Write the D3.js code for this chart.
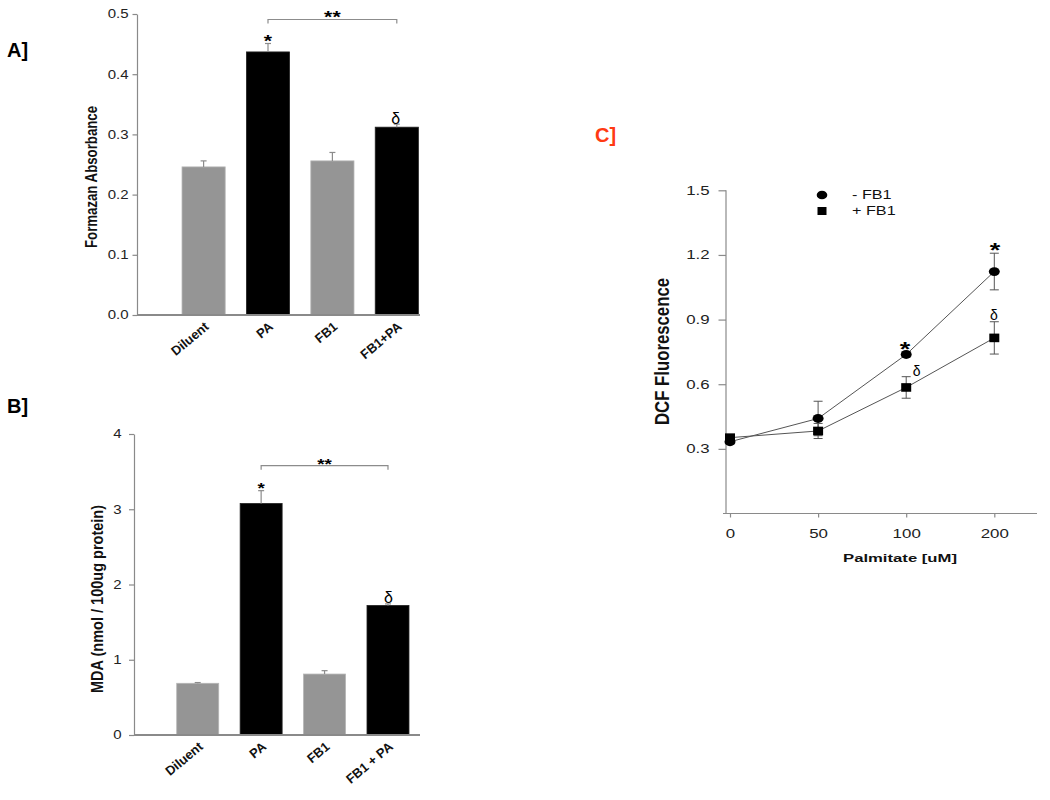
<!DOCTYPE html>
<html>
<head>
<meta charset="utf-8">
<script src="https://cdn.jsdelivr.net/npm/d3@7"></script>
<style>
  html, body { margin: 0; padding: 0; background: #fff; }
  svg { display: block; }
  text { font-family: "Liberation Sans", Arial, sans-serif; }
</style>
</head>
<body>
<svg id="chart" width="1050" height="800"></svg>
<script>
// ---------- DATA ----------
const catsA = ["Diluent", "PA", "FB1", "FB1+PA"];
const valsA = [0.246, 0.437, 0.256, 0.312];
const errA  = [0.010, 0.014, 0.014, 0.005];
const colorsA = ["gray", "black", "gray", "black"];
const ticksA = [0.0, 0.1, 0.2, 0.3, 0.4, 0.5];

const catsB = ["Diluent", "PA", "FB1", "FB1 + PA"];
const valsB = [0.687, 3.077, 0.810, 1.722];
const errB  = [0.010, 0.170, 0.045, 0.020];
const colorsB = ["gray", "black", "gray", "black"];
const ticksB = [0, 1, 2, 3, 4];

const doses = ["0", "50", "100", "200"];
const minusFB1 = [0.333, 0.441, 0.738, 1.123];
const errMinus = [0.010, 0.080, 0.012, 0.085];
const plusFB1  = [0.352, 0.383, 0.585, 0.815];
const errPlus  = [0.010, 0.035, 0.050, 0.075];
const ticksC = [0.3, 0.6, 0.9, 1.2, 1.5];

// ---------- SETUP ----------
const svg = d3.select("#chart");
svg.append("rect").attr("width", 1050).attr("height", 800).attr("fill", "#fff");
const defs = svg.append("defs");
const FILL = { gray: "#959595", black: "#000" };
const AXC = "#8a8a8a";

function stretch(sel, f) {
  sel.each(function () {
    const len = this.getComputedTextLength();
    d3.select(this).attr("textLength", len * f).attr("lengthAdjust", "spacingAndGlyphs");
  });
}
function starBaseline(cy, size) { return cy + size * 0.57; }
let pathId = 0;

// ---------- BAR PANEL ----------
function barPanel(o) {
  const g = svg.append("g");
  const x = d3.scaleBand().domain(o.cats).range(o.xr).paddingInner(o.pi).paddingOuter(o.pi / 2);
  const y = d3.scaleLinear().domain(o.ydom).range(o.yr);

  // bars
  g.selectAll("rect.bar").data(o.cats).join("rect").attr("class", "bar")
    .attr("x", d => x(d)).attr("width", x.bandwidth())
    .attr("y", (d, i) => y(o.vals[i])).attr("height", (d, i) => y(0) - y(o.vals[i]))
    .attr("fill", (d, i) => FILL[o.colors[i]])
    .attr("stroke", (d, i) => o.colors[i] === "gray" ? "#b5b5b5" : "#222").attr("stroke-width", 0.8);

  // error bars (upward)
  const eb = g.selectAll("g.err").data(o.cats).join("g").attr("class", "err")
    .attr("stroke", "#8c8c8c").attr("stroke-width", 1.2);
  eb.append("line")
    .attr("x1", d => x(d) + x.bandwidth() / 2).attr("x2", d => x(d) + x.bandwidth() / 2)
    .attr("y1", (d, i) => y(o.vals[i])).attr("y2", (d, i) => y(o.vals[i] + o.errs[i]));
  eb.append("line")
    .attr("x1", d => x(d) + x.bandwidth() / 2 - 3).attr("x2", d => x(d) + x.bandwidth() / 2 + 3)
    .attr("y1", (d, i) => y(o.vals[i] + o.errs[i])).attr("y2", (d, i) => y(o.vals[i] + o.errs[i]));

  // y axis
  const ya = g.append("g").attr("transform", `translate(${o.ax},0)`)
    .call(d3.axisLeft(y).tickValues(o.ticks).tickFormat(o.fmt).tickSize(o.tickSize).tickPadding(o.tickPad).tickSizeOuter(0));
  ya.select(".domain").attr("stroke", AXC).attr("stroke-width", 1.2);
  ya.selectAll(".tick line").attr("stroke", AXC).attr("stroke-width", 1.2);
  ya.selectAll(".tick text").attr("font-size", o.tickFont).attr("fill", "#222").attr("font-family", "Liberation Sans, Arial");
  stretch(ya.selectAll(".tick text"), 1.25);

  // x axis line
  g.append("line").attr("x1", o.ax).attr("x2", o.xEnd).attr("y1", y(0)).attr("y2", y(0))
    .attr("stroke", AXC).attr("stroke-width", 1.8);

  // x labels along diagonal paths
  const ang = 40 * Math.PI / 180, L = 120;
  o.cats.forEach(d => {
    const ex = x(d) + x.bandwidth() / 2 + 6, ey = y(0) + 13;
    const id = "lblpath" + (pathId++);
    defs.append("path").attr("id", id)
      .attr("d", `M${ex - L * Math.cos(ang)},${ey + L * Math.sin(ang)}L${ex},${ey}`);
    g.append("text")
      .attr("font-weight", "bold").attr("font-size", 13).attr("fill", "#111")
      .append("textPath").attr("href", "#" + id).attr("startOffset", "100%").attr("text-anchor", "end")
      .text(d);
  });

  // y title
  g.append("text")
    .attr("transform", `translate(${o.titleX},${o.titleY}) scale(1.25,1) rotate(-90)`)
    .attr("text-anchor", "middle").attr("dy", "0.36em")
    .attr("font-weight", "bold").attr("font-size", o.titleFont).attr("fill", "#111")
    .attr("textLength", o.titleLen).attr("lengthAdjust", "spacingAndGlyphs")
    .text(o.title);

  // significance bracket
  const c1 = x(o.cats[1]) + x.bandwidth() / 2, c3 = x(o.cats[3]) + x.bandwidth() / 2;
  g.append("path")
    .attr("d", `M${c1},${o.brY + 4}V${o.brY}H${c3}V${o.brY + 4}`)
    .attr("fill", "none").attr("stroke", "#8c8c8c").attr("stroke-width", 1.2);
  const ss = g.append("text").attr("x", (c1 + c3) / 2).attr("y", starBaseline(o.dblY, o.starSize))
    .attr("text-anchor", "middle").attr("font-weight", "bold").attr("font-size", o.starSize).text("**");
  stretch(ss, 1.25);
  const s1 = g.append("text").attr("x", c1).attr("y", starBaseline(o.starY, o.starSize))
    .attr("text-anchor", "middle").attr("font-weight", "bold").attr("font-size", o.starSize).text("*");
  stretch(s1, 1.25);
  g.append("text").attr("x", c3 - 1 + o.deltaDx).attr("y", o.deltaY + 6)
    .attr("text-anchor", "middle").attr("font-size", 16).text("δ");

  // panel label
  g.append("text").attr("x", 7).attr("y", o.labY).attr("font-weight", "bold").attr("font-size", 20).text(o.label);
}

barPanel({
  cats: catsA, vals: valsA, errs: errA, colors: colorsA, ticks: ticksA,
  xr: [171.4, 429], pi: 0.33, ydom: [0, 0.5], yr: [315, 14], ax: 137, xEnd: 420,
  fmt: d3.format(".1f"), tickSize: 4.5, tickPad: 4, tickFont: 12,
  title: "Formazan Absorbance", titleX: 91, titleY: 177, titleLen: 142, titleFont: 12.5,
  brY: 19.5, dblY: 13.7, starY: 37.5, starSize: 17, deltaY: 117.5, deltaDx: 0,
  label: "A]", labY: 57
});

barPanel({
  cats: catsB, vals: valsB, errs: errB, colors: colorsB, ticks: ticksB,
  xr: [166.0, 419.7], pi: 0.338, ydom: [0, 4], yr: [735, 434], ax: 134, xEnd: 420,
  fmt: d3.format("d"), tickSize: 5, tickPad: 7.5, tickFont: 12,
  title: "MDA (nmol / 100ug protein)", titleX: 97, titleY: 599, titleLen: 188, titleFont: 13,
  brY: 465.7, dblY: 460.3, starY: 484, starSize: 15, deltaY: 596.7, deltaDx: 1.5,
  label: "B]", labY: 413
});

// ---------- LINE PANEL C ----------
(function () {
  const g = svg.append("g");
  const x = d3.scalePoint().domain(doses).range([730, 994.3]);
  const y = d3.scaleLinear().domain([0, 1.5]).range([513.5, 190.3]);
  const axX = 726;

  // y axis
  const ya = g.append("g").attr("transform", `translate(${axX},0)`)
    .call(d3.axisLeft(y).tickValues(ticksC).tickFormat(d3.format(".1f")).tickSize(7.5).tickPadding(9).tickSizeOuter(0));
  ya.select(".domain").attr("stroke", AXC).attr("stroke-width", 1.2)
    .attr("d", `M0,${y(1.5)}V${y(0)}`);
  ya.selectAll(".tick line").attr("stroke", AXC).attr("stroke-width", 1.2);
  ya.selectAll(".tick text").attr("font-size", 12).attr("fill", "#222").attr("font-family", "Liberation Sans, Arial");
  stretch(ya.selectAll(".tick text"), 1.4);

  // x axis
  const xa = g.append("g").attr("transform", `translate(0,${y(0)})`)
    .call(d3.axisBottom(x).tickSize(4).tickPadding(12).tickSizeOuter(0));
  xa.select(".domain").attr("stroke", AXC).attr("stroke-width", 1.2).attr("d", `M${axX - 3},0H1037`);
  xa.selectAll(".tick line").attr("stroke", AXC).attr("stroke-width", 1.2);
  xa.selectAll(".tick text").attr("font-size", 12.5).attr("fill", "#222").attr("font-family", "Liberation Sans, Arial");
  stretch(xa.selectAll(".tick text"), 1.35);

  // lines
  const line = d3.line().x((d, i) => x(doses[i])).y(d => y(d));
  [minusFB1, plusFB1].forEach(s => {
    g.append("path").datum(s).attr("d", line).attr("fill", "none").attr("stroke", "#555").attr("stroke-width", 1);
  });

  // error bars
  [[minusFB1, errMinus], [plusFB1, errPlus]].forEach(([v, e]) => {
    const eg = g.append("g").attr("stroke", "#555").attr("stroke-width", 1);
    doses.forEach((d, i) => {
      const cx = x(d), t = y(v[i] + e[i]), b = y(v[i] - e[i]);
      eg.append("line").attr("x1", cx).attr("x2", cx).attr("y1", t).attr("y2", b);
      eg.append("line").attr("x1", cx - 4.5).attr("x2", cx + 4.5).attr("y1", t).attr("y2", t);
      eg.append("line").attr("x1", cx - 4.5).attr("x2", cx + 4.5).attr("y1", b).attr("y2", b);
    });
  });

  // markers
  g.selectAll("ellipse.m").data(minusFB1).join("ellipse").attr("class", "m")
    .attr("cx", (d, i) => x(doses[i])).attr("cy", d => y(d)).attr("rx", 5.5).attr("ry", 4.4).attr("fill", "#000");
  g.selectAll("rect.m").data(plusFB1).join("rect").attr("class", "m")
    .attr("x", (d, i) => x(doses[i]) - 5).attr("y", d => y(d) - 4.3).attr("width", 10).attr("height", 8.6).attr("fill", "#000");

  // legend
  g.append("ellipse").attr("cx", 822).attr("cy", 195).attr("rx", 5.3).attr("ry", 4.3).attr("fill", "#000");
  g.append("rect").attr("x", 817.5).attr("y", 207).attr("width", 9).attr("height", 8).attr("fill", "#000");
  const lt = g.selectAll("text.lg").data(["- FB1", "+ FB1"]).join("text").attr("class", "lg")
    .attr("x", 852).attr("y", (d, i) => 195 + i * 16 + 4.3).attr("font-size", 12).attr("fill", "#111").text(d => d);
  stretch(lt, 1.35);

  // annotations
  const st = g.selectAll("text.st").data([[995, 246], [905, 345]]).join("text").attr("class", "st")
    .attr("x", d => d[0]).attr("y", d => starBaseline(d[1], 20))
    .attr("text-anchor", "middle").attr("font-weight", "bold").attr("font-size", 20).text("*");
  stretch(st, 1.35);
  g.selectAll("text.dl").data([[994, 314.3], [916.7, 370.3]]).join("text").attr("class", "dl")
    .attr("x", d => d[0]).attr("y", d => d[1] + 5.5)
    .attr("text-anchor", "middle").attr("font-size", 14).text("δ");

  // titles
  g.append("text")
    .attr("transform", `translate(661.7,351.5) scale(1.45,1) rotate(-90)`)
    .attr("text-anchor", "middle").attr("dy", "0.36em")
    .attr("font-weight", "bold").attr("font-size", 14.5).attr("fill", "#111")
    .attr("textLength", 147).attr("lengthAdjust", "spacingAndGlyphs")
    .text("DCF Fluorescence");
  g.append("text").attr("x", 900).attr("y", 562).attr("text-anchor", "middle")
    .attr("font-weight", "bold").attr("font-size", 11.5).attr("fill", "#111")
    .attr("textLength", 114).attr("lengthAdjust", "spacingAndGlyphs")
    .text("Palmitate [uM]");

  g.append("text").attr("x", 595).attr("y", 142).attr("font-weight", "bold").attr("font-size", 20)
    .attr("fill", "#ff3a12").text("C]");
})();
</script>
</body>
</html>
